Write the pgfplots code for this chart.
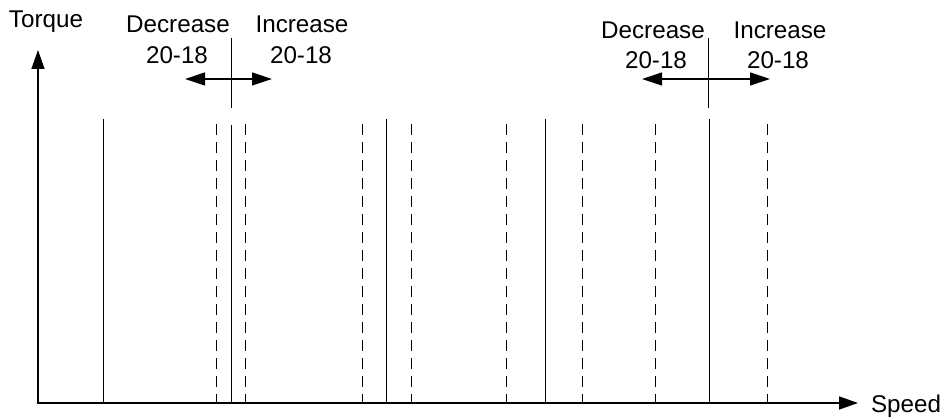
\documentclass[border=0pt]{standalone}
\usepackage{pgfplots}
\pgfplotsset{compat=1.18}
\usepackage{fontspec}
\setmainfont{Liberation Sans}
\usetikzlibrary{arrows.meta}
\begin{document}
\begin{tikzpicture}[x=1bp,y=1bp, lbl/.style={font=\fontsize{24.3}{28}\selectfont, inner sep=0pt}]
\begin{axis}[
  width=944bp, height=417bp, scale only axis,
  xmin=0, xmax=944, ymin=0, ymax=417,
  hide axis, clip=false,
]
\path (rel axis cs:0,0) rectangle (rel axis cs:1,1);
% axes
\addplot[black, line width=1.5bp, -{Triangle[length=19bp,width=13bp]}] coordinates {(38,14) (38,367)};
\addplot[black, line width=1.5bp, -{Triangle[length=19bp,width=13bp]}] coordinates {(37.25,14) (858,14)};
% solid lines
\addplot[black, line width=1bp] coordinates {(103,14) (103,298)};
\addplot[black, line width=1bp] coordinates {(231,14) (231,292)};
\addplot[black, line width=1bp] coordinates {(386,14) (386,298)};
\addplot[black, line width=1bp] coordinates {(545,14) (545,298)};
\addplot[black, line width=1bp] coordinates {(709,14) (709,298)};
% dashed lines
\addplot[black, line width=0.9bp, dash pattern=on 11bp off 7bp] coordinates {(216,293) (216,14)};
\addplot[black, line width=0.9bp, dash pattern=on 11bp off 7bp] coordinates {(245,293) (245,14)};
\addplot[black, line width=0.9bp, dash pattern=on 11bp off 7bp] coordinates {(362,293) (362,14)};
\addplot[black, line width=0.9bp, dash pattern=on 11bp off 7bp] coordinates {(411,293) (411,14)};
\addplot[black, line width=0.9bp, dash pattern=on 11bp off 7bp] coordinates {(506,293) (506,14)};
\addplot[black, line width=0.9bp, dash pattern=on 11bp off 7bp] coordinates {(582,293) (582,14)};
\addplot[black, line width=0.9bp, dash pattern=on 11bp off 7bp] coordinates {(655,293) (655,14)};
\addplot[black, line width=0.9bp, dash pattern=on 11bp off 7bp] coordinates {(767,293) (767,14)};
% upper markers
\addplot[black, line width=1bp] coordinates {(231,379) (231,309)};
\addplot[black, line width=1bp] coordinates {(708,379) (708,309)};
% double arrows
\addplot[black, line width=1.2bp, {Triangle[length=20bp,width=13bp]}-{Triangle[length=20bp,width=13bp]}] coordinates {(185,338) (272,338)};
\addplot[black, line width=1.2bp, {Triangle[length=20bp,width=13bp]}-{Triangle[length=20bp,width=13bp]}] coordinates {(642,338) (770,338)};
% texts
\node[lbl] at (axis cs:46,395) {Torque};
\node[lbl] at (axis cs:178,393) {Decrease};
\node[lbl] at (axis cs:177,362) {20-18};
\node[lbl] at (axis cs:302,393) {Increase};
\node[lbl] at (axis cs:301,362) {20-18};
\node[lbl] at (axis cs:653,387) {Decrease};
\node[lbl] at (axis cs:656,357) {20-18};
\node[lbl] at (axis cs:780,387) {Increase};
\node[lbl] at (axis cs:778,357) {20-18};
\node[lbl] at (axis cs:906,11) {Speed};
\end{axis}
\end{tikzpicture}
\end{document}
